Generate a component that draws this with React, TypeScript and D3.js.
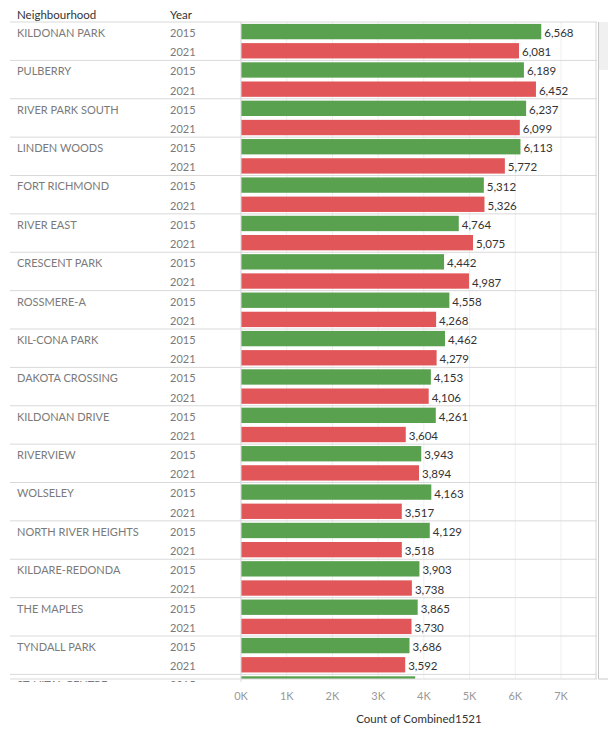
import React from 'react';
import * as d3 from 'd3';

const neighbourhoods = [
  'KILDONAN PARK', 'PULBERRY', 'RIVER PARK SOUTH', 'LINDEN WOODS', 'FORT RICHMOND',
  'RIVER EAST', 'CRESCENT PARK', 'ROSSMERE-A', 'KIL-CONA PARK', 'DAKOTA CROSSING',
  'KILDONAN DRIVE', 'RIVERVIEW', 'WOLSELEY', 'NORTH RIVER HEIGHTS', 'KILDARE-REDONDA',
  'THE MAPLES', 'TYNDALL PARK', 'ST. VITAL CENTRE',
];
const years = ['2015', '2021'];
const counts2015 = [6568, 6189, 6237, 6113, 5312, 4764, 4442, 4558, 4462, 4153, 4261, 3943, 4163, 4129, 3903, 3865, 3686, 3810];
const counts2021 = [6081, 6452, 6099, 5772, 5326, 5075, 4987, 4268, 4279, 4106, 3604, 3894, 3517, 3518, 3738, 3730, 3592, 3700];
const xTicks = [0, 1000, 2000, 3000, 4000, 5000, 6000, 7000];

const W = 608;
const H = 729;
const paneTop = 22;
const paneBottom = 679;
const paneLeft = 241;
const paneRight = 597;
const groupH = 38.375;
const font = 'Lato, "Noto Sans", sans-serif';
const colors: Record<string, string> = { '2015': '#59a14f', '2021': '#e15759' };

export default function App() {
  const x = d3.scaleLinear().domain([0, 7000]).range([paneLeft, paneLeft + 320]);
  const yGroup = d3.scaleBand()
    .domain(neighbourhoods)
    .range([paneTop, paneTop + neighbourhoods.length * groupH]);
  const yYear = d3.scaleBand()
    .domain(years)
    .range([0, yGroup.bandwidth()])
    .paddingInner(0.2)
    .paddingOuter(0.1);
  const fmt = d3.format(',');

  const rows = neighbourhoods.flatMap((n, i) => [
    { n, year: '2015', v: counts2015[i] },
    { n, year: '2021', v: counts2021[i] },
  ]);
  const rowMid = (n: string, year: string) =>
    (yGroup(n) as number) + (yYear(year) as number) + yYear.bandwidth() / 2;

  return (
    <svg width={W} height={H} style={{ display: 'block', position: 'absolute', left: 0, top: 0 }}>
      <defs>
        <clipPath id="pane">
          <rect x={0} y={paneTop} width={paneRight + 1} height={paneBottom - paneTop + 3} />
        </clipPath>
        <clipPath id="bars">
          <rect x={0} y={paneTop} width={paneRight} height={paneBottom - paneTop} />
        </clipPath>
      </defs>
      <rect width={W} height={H} fill="#fff" />

      {/* headers */}
      <text x={17} y={14} dy="0.4em" fontFamily={font} fontSize={11.5} fill="#333">Neighbourhood</text>
      <text x={170} y={14} dy="0.4em" fontFamily={font} fontSize={11.5} fill="#333">Year</text>

      {/* gridlines */}
      {xTicks.map(t => (
        <line key={t} x1={x(t)} x2={x(t)} y1={paneTop} y2={paneBottom} stroke="#efefef" strokeWidth={1} />
      ))}

      <g clipPath="url(#pane)">
        {neighbourhoods.map(n => (
          <text key={n} x={17} y={rowMid(n, '2015') + 1.5}
            dy="0.35em" fontFamily={font} fontSize={11} fill="#7a7a7a">{n}</text>
        ))}
        {rows.map(r => (
          <text key={r.n + r.year} x={170} y={rowMid(r.n, r.year) + 1.5}
            dy="0.35em" fontFamily={font} fontSize={11} fill="#7a7a7a">{r.year}</text>
        ))}
      </g>

      <g clipPath="url(#bars)">
        {rows.map(r => {
          const y0 = (yGroup(r.n) as number) + (yYear(r.year) as number);
          const mid = y0 + yYear.bandwidth() / 2;
          return (
            <g key={r.n + r.year}>
              <rect x={x(0)} y={y0} width={x(r.v) - x(0)} height={yYear.bandwidth()} fill={colors[r.year]} />
              {mid < paneBottom ? (
                <text x={x(r.v) + 3} y={mid + 1.5} dy="0.35em"
                  fontFamily={font} fontSize={11.5} fill="#333">{fmt(r.v)}</text>
              ) : null}
            </g>
          );
        })}
      </g>

      {/* row separators */}
      {neighbourhoods.map((n, i) => i > 0 && (yGroup(n) as number) < paneBottom ? (
        <line key={n} x1={10} x2={paneRight} y1={yGroup(n)} y2={yGroup(n)} stroke="#d9d9d9" strokeWidth={1} />
      ) : null)}
      <line x1={10} x2={paneRight} y1={paneTop} y2={paneTop} stroke="#d9d9d9" strokeWidth={1.2} />
      <line x1={10} x2={paneRight} y1={paneBottom} y2={paneBottom} stroke="#d9d9d9" strokeWidth={1.2} />
      <line x1={paneLeft} x2={paneLeft} y1={paneTop} y2={paneBottom + 3} stroke="#d9d9d9" strokeWidth={1} />
      <line x1={paneRight - 1} x2={paneRight - 1} y1={paneTop} y2={paneBottom} stroke="#d9d9d9" strokeWidth={1} />

      {/* scrollbar */}
      <rect x={598} y={paneTop} width={10} height={48} fill="#f0f0f0" />
      <line x1={598.5} x2={598.5} y1={paneTop} y2={paneBottom} stroke="#c8c8c8" strokeWidth={1} />
      <line x1={598.5} x2={W} y1={paneBottom} y2={paneBottom} stroke="#c8c8c8" strokeWidth={1} />

      {/* x axis */}
      {xTicks.map(t => (
        <text key={t} x={x(t)} y={696} dy="0.35em" textAnchor="middle"
          fontFamily={font} fontSize={11} fill="#999">{t / 1000 + 'K'}</text>
      ))}
      <text x={(paneLeft + paneRight) / 2} y={719} dy="0.35em" textAnchor="middle"
        fontFamily={font} fontSize={11.5} fill="#333">Count of Combined1521</text>
    </svg>
  );
}
